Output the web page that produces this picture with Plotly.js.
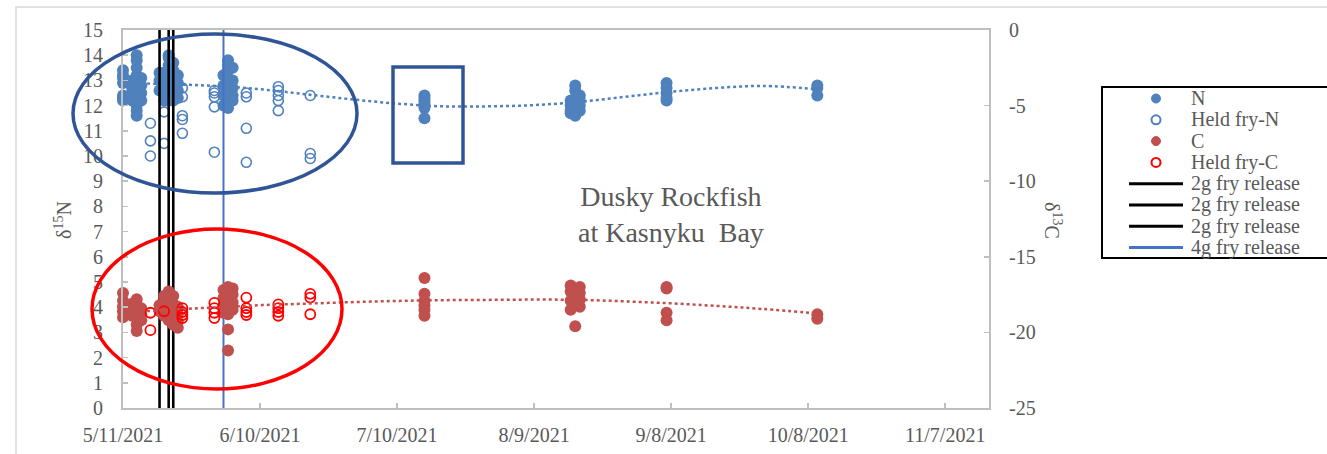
<!DOCTYPE html>
<html><head><meta charset="utf-8">
<script src="https://cdn.plot.ly/plotly-3.0.1.min.js"></script>
<style>body{margin:0;background:#fff}#chart{width:1327px;height:454px}</style>
</head><body><div id="chart"></div>
<script>
// ---- data ----
const nDays = ['2021-05-11','2021-05-13','2021-05-14','2021-05-15','2021-05-19','2021-05-20','2021-05-21','2021-05-22','2021-05-23','2021-06-02','2021-06-03','2021-06-04','2021-07-16','2021-08-17','2021-08-18','2021-08-19','2021-09-07','2021-10-10'];
const nVals = [
  [13.4,13.2,13.1,12.9,12.4,12.3,12.2],
  [13.0,12.7,12.5,12.2],
  [14.0,13.8,13.5,13.2,12.9,12.6,12.3,12.0,11.8,11.6],
  [13.1,12.8,12.5,12.2],
  [13.3,13.0,12.6],
  [13.3,12.9,12.5,12.2],
  [14.0,13.9,13.6,13.3,13.0,12.7,12.4,12.2],
  [13.7,13.4,13.1,12.8,12.5,12.2],
  [13.2,12.9,12.6,12.3],
  [13.2,12.8,12.4,12.0],
  [13.8,13.6,13.4,13.1,12.9,12.6,12.3,12.1,11.9],
  [13.5,13.0,12.7,12.4,12.2],
  [12.4,12.3,12.2,12.1,12.0,11.9,11.5],
  [12.2,12.0,11.8,11.7],
  [12.8,12.6,12.3,12.1,11.9,11.7,11.6],
  [12.4,12.2,12.0,11.8],
  [12.9,12.7,12.5,12.3,12.2],
  [12.8,12.7,12.4]
];
const heldNDays = ['2021-05-17','2021-05-20','2021-05-24','2021-05-31','2021-06-07','2021-06-14','2021-06-21'];
const heldNVals = [
  [11.3,10.6,10.0],
  [11.75,10.5],
  [12.7,12.35,11.6,11.45,10.9],
  [12.6,12.5,12.35,11.95,10.15],
  [12.5,12.35,11.1,9.75],
  [12.75,12.6,12.4,12.2,11.8],
  [12.4,10.1,9.9]
];
const cDays = ['2021-05-11','2021-05-13','2021-05-14','2021-05-15','2021-05-19','2021-05-20','2021-05-21','2021-05-22','2021-05-23','2021-06-02','2021-06-03','2021-06-04','2021-07-16','2021-08-17','2021-08-18','2021-08-19','2021-09-07','2021-10-10'];
const cVals = [
  [-17.4,-17.9,-18.3,-18.6,-19.0],
  [-18.1,-18.5,-18.9],
  [-17.8,-18.2,-18.6,-19.0,-19.5,-19.9],
  [-18.4,-18.8,-19.2],
  [-18.2,-18.6],
  [-17.6,-18.0,-18.4,-18.9],
  [-17.3,-17.7,-18.2,-18.7,-19.2],
  [-17.6,-18.1,-18.5,-19.0,-19.5],
  [-18.3,-18.8,-19.3,-19.7],
  [-17.2,-17.7,-18.2,-18.7],
  [-17.0,-17.3,-17.6,-18.0,-18.4,-18.8,-19.8,-21.2],
  [-17.1,-17.5,-18.0,-18.5],
  [-16.4,-17.45,-17.9,-18.2,-18.5,-18.9],
  [-16.9,-17.3,-17.9,-18.5],
  [-17.1,-17.6,-18.2,-19.6],
  [-17.0,-17.4,-17.8,-18.3],
  [-17.0,-17.1,-18.7,-19.2],
  [-18.8,-19.1]
];
const heldCDays = ['2021-05-17','2021-05-20','2021-05-24','2021-05-31','2021-06-07','2021-06-14','2021-06-21'];
const heldCVals = [
  [-18.7,-19.85],
  [-18.6],
  [-18.4,-18.65,-18.85,-19.05],
  [-18.05,-18.4,-18.7,-19.05],
  [-17.7,-18.4,-18.65,-18.85],
  [-18.15,-18.4,-18.65,-18.9],
  [-17.45,-17.7,-18.8]
];
const trendDays = ['2021-05-11','2021-05-21','2021-05-31','2021-06-10','2021-06-20','2021-06-30','2021-07-10','2021-07-20','2021-07-30','2021-08-09','2021-08-19','2021-08-29','2021-09-08','2021-09-18','2021-09-28','2021-10-10'];
const nTrend = [12.9,12.85,12.78,12.65,12.45,12.25,12.08,11.97,11.97,12.02,12.15,12.35,12.55,12.7,12.78,12.65];
const cTrend = [-18.7,-18.5,-18.35,-18.2,-18.1,-18.0,-17.92,-17.87,-17.85,-17.83,-17.85,-17.95,-18.08,-18.25,-18.45,-18.75];
const releaseDates = ['2021-05-19','2021-05-21','2021-05-22','2021-06-02'];
const releaseNames = ['2g fry release','2g fry release','2g fry release','4g fry release'];
const releaseColors = ['#000000','#000000','#000000','#4472C4'];
const leftRange = [0, 15];
const rightTickVals = [-25,-20,-15,-10,-5,0];
const rightTickText = ['-25','-20','-15','-10','-5','0'];
const legendNames = ['N','Held fry-N','C','Held fry-C'].concat(releaseNames);

function expand(days, vals){
  const x=[], y=[];
  days.forEach((d,i)=>vals[i].forEach(v=>{x.push(d); y.push(v);}));
  return {x, y};
}
const N = expand(nDays, nVals), HN = expand(heldNDays, heldNVals);
const C = expand(cDays, cVals), HC = expand(heldCDays, heldCVals);

const FONT = 'Liberation Serif, Times New Roman, serif';
const GREY = '#595959';
const NBLUE = '#4F81BD', CRED = '#C0504D', HRED = '#FF0000';

const traces = [
  {type:'scatter', mode:'markers', name:'N', x:N.x, y:N.y, yaxis:'y', cliponaxis:false,
   marker:{color:NBLUE, size:12}},
  {type:'scatter', mode:'markers', name:'Held fry-N', x:HN.x, y:HN.y, yaxis:'y', cliponaxis:false,
   marker:{color:NBLUE, size:10, symbol:'circle-open', line:{width:1.6}}},
  {type:'scatter', mode:'markers', name:'C', x:C.x, y:C.y, yaxis:'y2', cliponaxis:false,
   marker:{color:CRED, size:12}},
  {type:'scatter', mode:'markers', name:'Held fry-C', x:HC.x, y:HC.y, yaxis:'y2', cliponaxis:false,
   marker:{color:HRED, size:10, symbol:'circle-open', line:{width:1.8}}},
  {type:'scatter', mode:'lines', x:trendDays, y:nTrend, yaxis:'y', name:'N trend',
   line:{color:NBLUE, width:2.5, dash:'dot', shape:'spline'}, hoverinfo:'skip'},
  {type:'scatter', mode:'lines', x:trendDays, y:cTrend, yaxis:'y2', name:'C trend',
   line:{color:CRED, width:2.5, dash:'dot', shape:'spline'}, hoverinfo:'skip'}
];
releaseDates.forEach((d,i)=>{
  traces.push({type:'scatter', mode:'lines', name:releaseNames[i], x:[d,d], y:leftRange, yaxis:'y',
    line:{color:releaseColors[i], width: i<3 ? 2.6 : 2}});
});

// plot-area pixel geometry helpers (for frame / legend / note placement)
const L=123, R=989, T=30, B=408;
const px = v => (v-L)/(R-L), py = v => (B-v)/(B-T);

const axisLine = {showline:true, linecolor:'#bfbfbf', linewidth:2, ticks:'inside', ticklen:5,
  tickcolor:'#bfbfbf', tickwidth:1.5, showgrid:false, zeroline:false,
  tickfont:{family:FONT, size:20, color:GREY}};

const shapes = [
  {type:'rect', xref:'paper', yref:'paper', x0:px(16), x1:px(1335), y0:py(462), y1:py(7),
   line:{color:'#d9d9d9', width:1.5}},
  {type:'rect', xref:'paper', yref:'paper', x0:px(1102), x1:px(1335), y0:py(258), y1:py(87),
   line:{color:'#000000', width:2}},
  {type:'circle', xref:'paper', yref:'paper', x0:px(73), x1:px(357), y0:py(193), y1:py(34),
   line:{color:'#2F5597', width:3.5}},
  {type:'circle', xref:'paper', yref:'paper', x0:px(92), x1:px(342), y0:py(389), y1:py(229),
   line:{color:'#FF0000', width:3.5}},
  {type:'rect', xref:'paper', yref:'paper', x0:px(393), x1:px(463), y0:py(163), y1:py(67),
   line:{color:'#2F5597', width:3.5}}
];
const annotations = [
  {xref:'paper', yref:'paper', x:px(671), y:py(214), text:'Dusky Rockfish<br>at Kasnyku\u00a0 Bay',
   showarrow:false, xanchor:'center', yanchor:'middle', font:{family:FONT, size:28, color:GREY}},
  {xref:'paper', yref:'paper', x:px(63), y:py(220), text:'δ<sup>15</sup>N', textangle:-90,
   showarrow:false, xanchor:'center', yanchor:'middle', font:{family:FONT, size:20, color:GREY}},
  {xref:'paper', yref:'paper', x:px(1053), y:py(220), text:'δ<sup>13</sup>C', textangle:90,
   showarrow:false, xanchor:'center', yanchor:'middle', font:{family:FONT, size:20, color:GREY}}
];

// legend (drawn as shapes + text to match the original's compact spacing)
const legendSymbols = [
  {kind:'dot', color:NBLUE}, {kind:'ring', color:NBLUE}, {kind:'dot', color:CRED}, {kind:'ring', color:HRED},
  {kind:'line', color:releaseColors[0]}, {kind:'line', color:releaseColors[1]},
  {kind:'line', color:releaseColors[2]}, {kind:'line', color:releaseColors[3]}
];
legendNames.forEach((name,i)=>{
  const cy = 98.5 + 21.3*i;
  const s = legendSymbols[i];
  if (s.kind === 'line') {
    shapes.push({type:'line', xref:'paper', yref:'paper', x0:px(1129), x1:px(1183), y0:py(cy), y1:py(cy),
      line:{color:s.color, width:3}});
  } else {
    shapes.push({type:'circle', xref:'paper', yref:'paper', x0:px(1151.5), x1:px(1160.5), y0:py(cy+4.5), y1:py(cy-4.5),
      fillcolor: s.kind==='dot' ? s.color : '#ffffff', line:{color:s.color, width: s.kind==='dot' ? 1 : 2}});
  }
  annotations.push({xref:'paper', yref:'paper', x:px(1189), y:py(cy), text:name, showarrow:false,
    xanchor:'left', yanchor:'middle', font:{family:FONT, size:20, color:GREY}});
});

const layout = {
  width:1327, height:454,
  margin:{l:L, r:1327-R, t:T, b:454-B},
  paper_bgcolor:'#ffffff', plot_bgcolor:'#ffffff',
  showlegend:false,
  font:{family:FONT, color:GREY},
  xaxis:Object.assign({}, axisLine, {type:'date', range:['2021-05-11','2021-11-16 14:00'],
    tick0:'2021-05-11', dtick:30*86400000, tickformat:'%-m/%-d/%Y', mirror:true, ticklabelstandoff:8}),
  yaxis:Object.assign({}, axisLine, {range:leftRange, dtick:1, ticklabelstandoff:14}),
  yaxis2:Object.assign({}, axisLine, {range:[-25,0], tickmode:'array', tickvals:rightTickVals,
    ticktext:rightTickText, overlaying:'y', side:'right', ticklabelstandoff:14}),
  shapes:shapes,
  annotations:annotations
};

Plotly.newPlot('chart', traces, layout, {displayModeBar:false, staticPlot:true});
</script>
</body></html>
